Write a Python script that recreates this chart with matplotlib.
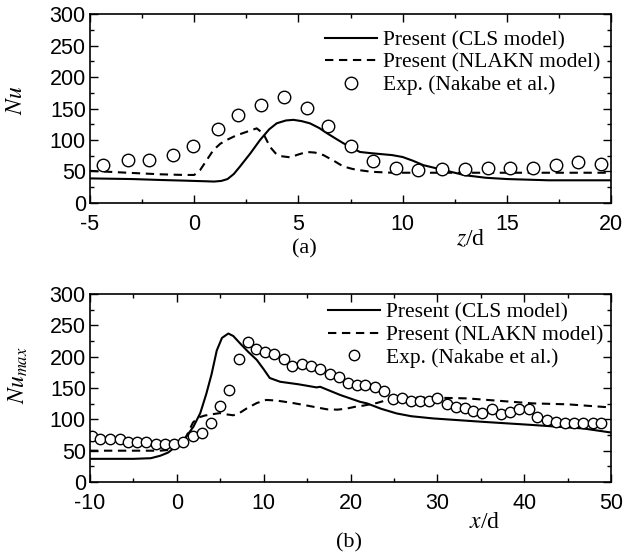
import numpy as np
import matplotlib
matplotlib.use("Agg")
import matplotlib.pyplot as plt
from matplotlib.ticker import MultipleLocator

plt.rcParams['font.family'] = ['Liberation Sans', 'DejaVu Sans']
plt.rcParams['mathtext.fontset'] = 'stix'
plt.rcParams['axes.unicode_minus'] = False

# ---- panel (a): Nu vs z/d ----
za_exp = [-4.36, -3.19, -2.15, -1.0, -0.04, 1.16, 2.12, 3.2, 4.3, 5.4, 6.43, 7.5,
          8.59, 9.67, 10.76, 11.87, 12.98, 14.1, 15.17, 16.28, 17.34, 18.43, 19.52]
nua_exp = [60, 68, 68, 76, 90, 118, 140, 155, 168, 151, 122, 90,
           66, 56, 53, 54, 54, 56, 55, 56, 61, 65, 62]

za_cls = [-5, -3, -1.6, -0.5, 0.5, 0.95, 1.3, 1.6, 1.9, 2.2, 2.7, 3.16, 3.6, 3.96, 4.4,
          4.76, 5.15, 5.55, 6.0, 6.36, 6.8, 7.15, 7.6, 7.95, 8.5, 9.5, 10.0, 10.5,
          11.0, 12.0, 13.0, 14.0, 15.0, 17.0, 20.0]
nua_cls = [39, 38, 36.5, 35.5, 34.5, 34, 35, 38, 46, 58, 79, 100, 117, 126.5, 131,
           132, 130, 126.5, 119, 111, 102, 95, 87, 81, 79, 76, 73, 67,
           60, 52, 44, 40, 38, 36, 36]

za_nl = [-5, -3.2, -1.6, -0.5, 0.0, 0.28, 0.6, 0.92, 1.25, 1.56, 2.0, 2.52, 3.0,
         3.32, 3.64, 3.9, 4.12, 4.6, 5.0, 5.4, 5.8, 6.2, 6.7, 7.15, 7.6, 7.95, 8.5,
         9.5, 12, 16, 20]
nua_nl = [51, 48, 45.5, 44.5, 44.5, 52, 68, 84, 94, 100, 107, 113, 118.5,
          110, 89, 79, 74.5, 72.5, 77, 81, 80, 76, 67, 58, 54, 52, 49.5,
          48, 48, 48, 48]

# ---- panel (b): Nu_max vs x/d ----
xb_exp = [-9.8, -8.85, -7.7, -6.6, -5.6, -4.55, -3.5, -2.4, -1.36, -0.33, 0.74, 1.83,
          2.86, 3.9, 4.97, 6.0, 7.16, 8.23, 9.1, 10.15, 11.2, 12.35, 13.3, 14.4,
          15.4, 16.5, 17.6, 18.7, 19.75, 20.7, 21.7, 22.8, 23.9, 24.9, 25.9, 27.0,
          28.0, 29.0, 30.0, 31.1, 32.1, 33.2, 34.1, 35.2, 36.3, 37.3, 38.4, 39.4,
          40.5, 41.5, 42.6, 43.7, 44.7, 45.7, 46.8, 47.9, 48.9]
nub_exp = [73, 68, 69, 69, 64, 64, 64, 60.5, 60.5, 61, 64, 73,
           77.5, 94.5, 121, 147, 197, 224, 213, 208, 205, 197, 185, 188,
           185, 180, 172, 167, 158, 155, 155, 151, 146, 132, 133.5, 129,
           129, 129, 133.5, 124.5, 120, 117.5, 114, 109.5, 116, 108, 112, 116.5,
           116.5, 104, 99, 96, 93.5, 93.5, 93.5, 93.5, 94.5]

xb_cls = [-10, -5, -3, -1.9, -1, 0, 1, 1.9, 2.7, 3.4, 4.0, 4.6, 5.2, 5.93, 6.5,
          7.3, 8.2, 9.2, 10.0, 10.7, 11.9, 14.0, 16.1, 16.5, 18.8, 21.1, 21.9,
          23.5, 25.3, 27.0, 29.5, 35.3, 41.0, 46.8, 50.0]
nub_cls = [37, 37, 38, 42, 47, 58, 71, 88, 110, 141, 172, 210, 230, 237, 233,
           221, 208, 195, 180, 166, 160, 156, 151, 152, 139, 128, 125.5,
           117, 109.5, 105, 101.5, 96, 91, 85.5, 79]

xb_nl = [-10, -5, -2, -1, 0, 1.0, 1.86, 2.5, 3.2, 4.0, 4.97, 5.7, 6.5, 7.2,
         8.05, 9.2, 10.3, 11.5, 13.4, 15.0, 17.3, 18.5, 19.5, 20.5, 21.5, 23.0,
         24.5, 27.6, 30.0, 33.4, 41.0, 45.0, 50.0]
nub_nl = [50, 50, 50, 51, 55, 70, 95, 103, 106, 108, 110, 108, 106.5, 110,
          117.5, 126, 131, 130, 126, 122, 116, 115.5, 117, 120, 122, 126,
          132, 135, 134.5, 133.5, 125.5, 124, 119]

labels = ['Present (CLS model)', 'Present (NLAKN model)', 'Exp. (Nakabe et al.)']

fig = plt.figure(figsize=(6.25, 5.59), dpi=100)
ax1 = fig.add_axes([0.144, 0.6369, 0.8336, 0.338])
ax2 = fig.add_axes([0.144, 0.1377, 0.8336, 0.3363])


def style(ax, xmaj, xmin):
    ax.xaxis.set_major_locator(MultipleLocator(xmaj))
    ax.xaxis.set_minor_locator(MultipleLocator(xmin))
    ax.yaxis.set_major_locator(MultipleLocator(50))
    ax.yaxis.set_minor_locator(MultipleLocator(25))
    ax.tick_params(which='both', direction='in', top=True, right=True,
                   width=1.0, labelsize=15.5)
    ax.tick_params(axis='x', pad=8)
    ax.tick_params(axis='y', pad=3)
    ax.tick_params(which='major', length=6)
    ax.tick_params(which='minor', length=3)
    for s in ax.spines.values():
        s.set_linewidth(1.2)


def draw(ax, xc, yc, xn, yn, xe, ye, ms, anchor):
    ax.plot(xc, yc, '-', color='black', lw=1.5, label=labels[0])
    ax.plot(xn, yn, color='black', lw=1.5, dashes=(4, 2.7), label=labels[1])
    ax.plot(xe, ye, 'o', ms=ms, mfc='white', mec='black', mew=1.0,
            linestyle='none', label=labels[2])
    ax.legend(loc='upper left', bbox_to_anchor=anchor, frameon=False,
              prop={'family': 'Liberation Serif', 'size': 15.5},
              handlelength=2.4, handletextpad=0.3, labelspacing=0.12,
              borderpad=0, borderaxespad=0, markerscale=1.0)


draw(ax1, za_cls, nua_cls, za_nl, nua_nl, za_exp, nua_exp, 9, (0.451, 0.915))
ax1.set_xlim(-5, 20)
ax1.set_ylim(0, 300)
style(ax1, 5, 2.5)

draw(ax2, xb_cls, nub_cls, xb_nl, nub_nl, xb_exp, nub_exp, 7.5, (0.457, 0.955))
ax2.set_xlim(-10, 50)
ax2.set_ylim(0, 300)
style(ax2, 10, 5)

W, H = 625, 559
serif = 'Liberation Serif'
fig.text(16 / W, 1 - 100 / H, '$Nu$', rotation=90, ha='center', va='center',
         fontsize=17, family=serif)
fig.text(18 / W, 1 - 375 / H, '$Nu_{max}$', rotation=90, ha='center', va='center',
         fontsize=17, family=serif)
fig.text(471 / W, 1 - 240 / H, '$z$/d', ha='center', va='center', fontsize=17, family=serif)
fig.text(485 / W, 1 - 522 / H, '$x$/d', ha='center', va='center', fontsize=17, family=serif)
fig.text(304 / W, 1 - 249 / H, '(a)', ha='center', va='center', fontsize=16, family=serif)
fig.text(349 / W, 1 - 543 / H, '(b)', ha='center', va='center', fontsize=16, family=serif)

fig.savefig('out.png', dpi=100)
